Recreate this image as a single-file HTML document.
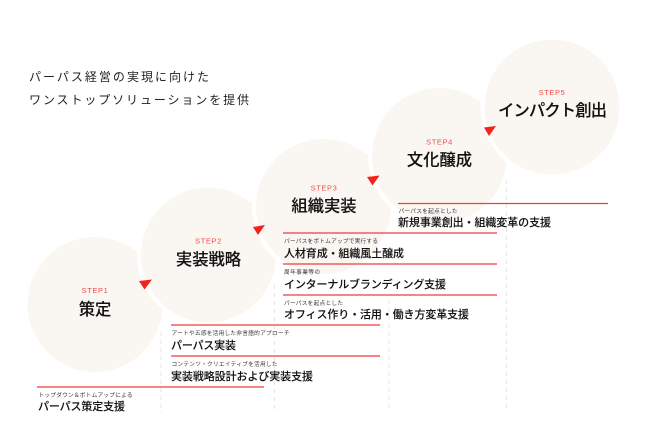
<!DOCTYPE html>
<html lang="ja">
<head>
<meta charset="utf-8">
<style>
html,body{margin:0;padding:0;background:#fff;}
svg{display:block;}
text{font-family:"Liberation Sans","Noto Sans CJK JP",sans-serif;}
.t{font-size:16.300px;font-weight:500;fill:#111;stroke:#111;stroke-width:.12px;text-anchor:middle;}
.s{font-size:7.500px;fill:#f34a4a;text-anchor:middle;letter-spacing:.6px;}
.b{font-size:11px;font-weight:500;fill:#111;stroke:#111;stroke-width:.08px;}
.m{font-size:5.700px;fill:#333;}
.h{font-size:12px;font-weight:400;fill:#222;}
</style>
</head>
<body>
<svg width="650" height="436" viewBox="0 0 650 436" xmlns="http://www.w3.org/2000/svg">
<rect width="650" height="436" fill="#fff"/>
<g stroke="#e6e6e6" stroke-width="1" stroke-dasharray="4 4" fill="none">
<path d="M161 332V413M274.500 285V413M389 300V413M506.500 180V413"/>
</g>
<g fill="#faf7f2" stroke="#fff" stroke-width="4">
<circle cx="95" cy="304.500" r="69.500"/>
<circle cx="208.500" cy="255" r="69.500"/>
<circle cx="323.500" cy="206.500" r="69.500"/>
<circle cx="439.500" cy="155.500" r="69.500"/>
<circle cx="552" cy="107" r="69.500"/>
</g>
<g fill="#f5211f">
<path d="M139 281L152 279.500L144.500 289.500Z"/>
<path d="M253 227L265 225L258 235Z"/>
<path d="M367 177L379.500 175.500L372.500 185.500Z"/>
<path d="M484 127.500L496 126L489 136Z"/>
</g>
<text class="h" x="29" y="81" textLength="180">パーパス経営の実現に向けた</text>
<text class="h" x="29" y="104" textLength="220">ワンストップソリューションを提供</text>

<text class="s" x="95" y="293">STEP1</text>
<text class="t" x="95" y="315">策定</text>
<text class="s" x="208.500" y="243.500">STEP2</text>
<text class="t" x="208.500" y="265">実装戦略</text>
<text class="s" x="324" y="190.500">STEP3</text>
<text class="t" x="324" y="211.500">組織実装</text>
<text class="s" x="439.500" y="144.500">STEP4</text>
<text class="t" x="439.500" y="165.500">文化醸成</text>
<text class="s" x="552" y="95">STEP5</text>
<text class="t" x="552.500" y="116" textLength="109">インパクト創出</text>

<g stroke="#f43c3c" stroke-width="1.200" fill="none">
<path d="M37 387H264"/>
<path d="M171 325H380"/>
<path d="M171 356H380"/>
<path d="M283 233H497"/>
<path d="M283 264H497"/>
<path d="M283 295H497"/>
<path d="M398 203.500H608"/>
</g>

<text class="m" x="38.500" y="397" textLength="94">トップダウン＆ボトムアップによる</text>
<text class="b" x="38" y="410" textLength="87">パーパス策定支援</text>
<text class="m" x="171.500" y="335" textLength="118">アートや五感を活用した非言語的アプローチ</text>
<text class="b" x="171" y="349" textLength="65">パーパス実装</text>
<text class="m" x="171.500" y="366" textLength="106">コンテンツ・クリエイティブを活用した</text>
<text class="b" x="171" y="380" textLength="142">実装戦略設計および実装支援</text>
<text class="m" x="284" y="243" textLength="94">パーパスをボトムアップで実行する</text>
<text class="b" x="284" y="257" textLength="120">人材育成・組織風土醸成</text>
<text class="m" x="284" y="274" textLength="36">周年事業等の</text>
<text class="b" x="284" y="288" textLength="162">インターナルブランディング支援</text>
<text class="m" x="284" y="305" textLength="59">パーパスを起点とした</text>
<text class="b" x="284" y="318" textLength="185">オフィス作り・活用・働き方変革支援</text>
<text class="m" x="398.500" y="213" textLength="59">パーパスを起点とした</text>
<text class="b" x="398" y="226" textLength="153">新規事業創出・組織変革の支援</text>
</svg>
</body>
</html>
